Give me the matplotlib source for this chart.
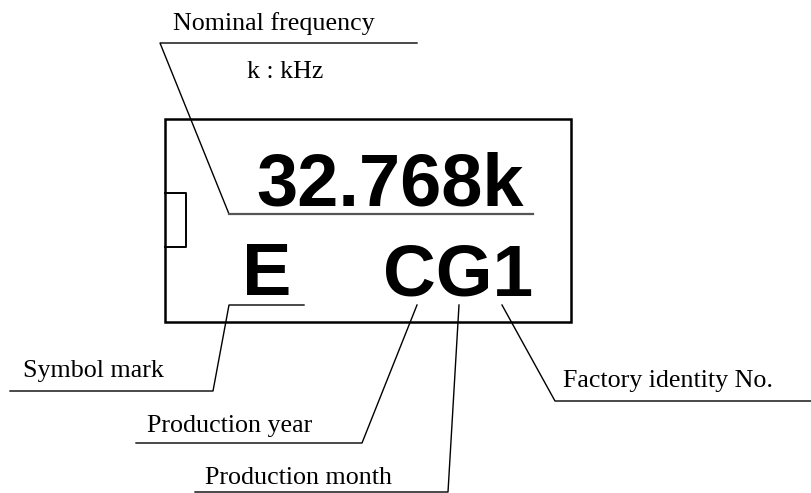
import matplotlib
matplotlib.use('Agg')
import matplotlib.pyplot as plt
from matplotlib.patches import Rectangle

# marking printed on the part
marking_top = '32.768k'
marking_left = 'E'
marking_right = 'CG1'

# callout labels (text, text anchor, leader polyline)
labels = ['Nominal frequency', 'Symbol mark', 'Production year',
          'Production month', 'Factory identity No.']
label_xy = [(173, 30), (23, 377), (147, 432), (205, 484), (563, 387)]
leaders = [
    [(417, 43), (160, 43), (229, 214)],
    [(10, 391), (213, 391), (229, 305), (304, 305)],
    [(136, 443), (362, 443), (417, 305)],
    [(195, 492), (448, 492), (459, 305)],
    [(811, 401), (555, 401), (502, 305)],
]
unit_note = 'k : kHz'

fig = plt.figure(figsize=(8.11, 4.93), dpi=100)
ax = fig.add_axes([0, 0, 1, 1])
ax.set_xlim(0, 811)
ax.set_ylim(493, 0)
ax.axis('off')

# package outline + notch
ax.add_patch(Rectangle((165, 119), 406, 203, fill=False, lw=1.8, ec='black'))
ax.plot([165, 186, 186, 165], [193, 193, 247, 247], color='black', lw=1.4)

serif = 'Liberation Serif'
sans = 'Liberation Sans'
px = 72 / 100  # px -> pt

ax.text(390, 205, marking_top, family=sans, weight='bold', fontsize=74 * px,
        ha='center', va='baseline')
ax.text(267, 295, marking_left, family=sans, weight='bold', fontsize=74 * px,
        ha='center', va='baseline')
ax.text(458, 295, marking_right, family=sans, weight='bold', fontsize=73 * px,
        ha='center', va='baseline')

for txt, (x, y) in zip(labels, label_xy):
    ax.text(x, y, txt, family=serif, fontsize=26 * px, ha='left', va='baseline')
ax.text(247, 78, unit_note, family=serif, fontsize=26 * px, ha='left', va='baseline')

for pts in leaders:
    xs = [p[0] for p in pts]
    ys = [p[1] for p in pts]
    ax.plot(xs, ys, color='black', lw=1.0)
# underline of the frequency marking is a bit heavier/greyer
ax.plot([229, 533], [214, 214], color='#555555', lw=1.6)

fig.savefig('out.png', dpi=100)
